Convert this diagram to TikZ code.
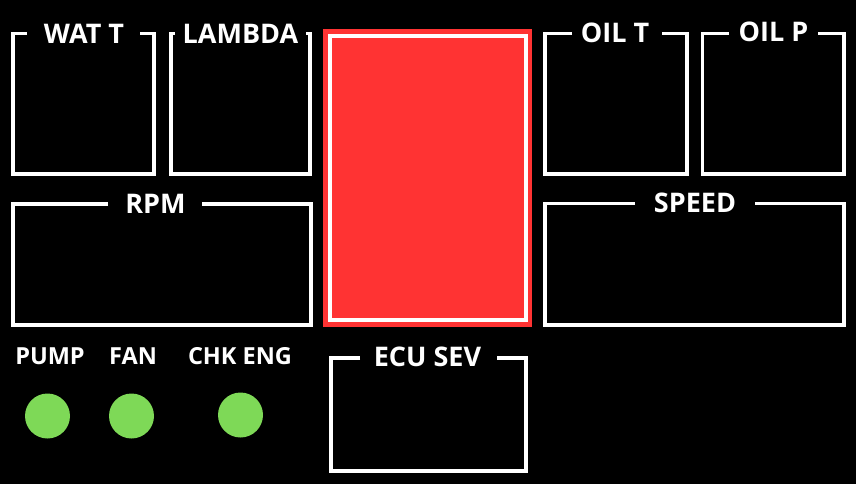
\documentclass[tikz,border=0pt]{standalone}
\usepackage{fontspec}
\setmainfont{Open Sans}
\definecolor{redpanel}{HTML}{FF3333}
\definecolor{lamp}{HTML}{7ED957}
\begin{document}
\begin{tikzpicture}[x=1pt,y=-1pt,
  frame/.style={draw=white, line width=3.6pt, line join=miter},
  biglabel/.style={text=white, font=\bfseries\fontsize{27}{30}\selectfont, inner sep=0pt, anchor=base},
  smalllabel/.style={text=white, font=\bfseries\fontsize{23.5}{28}\selectfont, inner sep=0pt, anchor=base},
  lampdot/.style={circle, fill=lamp, minimum size=45pt, inner sep=0pt}]
\fill[black] (0,0) rectangle (856,484);
\useasboundingbox (0,0) rectangle (856,484);

% top-left gauges
\draw[frame] (27,33.5) -| (13,174) -| (154,33.5) -- (140,33.5);
\node[biglabel] (watt) at (84,43.5) {WAT T};
\draw[frame] (175,33.5) -| (171,174) -| (310,33.5) -- (306,33.5);
\node[biglabel] (lambda) at (240.5,43.5) {LAMBDA};

% RPM
\draw[frame] (108,204) -| (13,325) -| (311,204) -- (202,204);
\node[biglabel] (rpm) at (155.5,213) {RPM};

% central display
\fill[redpanel] (323,29) rectangle (532,327);
\draw[white, line width=3.5pt] (330,36) rectangle (526,320);

% top-right gauges
\draw[frame] (572,33.5) -| (545,174) -| (687,33.5) -- (662,33.5);
\node[biglabel] (oilt) at (615,43) {OIL T};
\draw[frame] (729,33.5) -| (702.5,174) -| (844,33.5) -- (818,33.5);
\node[biglabel] (oilp) at (773.5,42) {OIL P};

% SPEED
\draw[frame] (635,203.5) -| (545,325) -| (844,203.5) -- (755,203.5);
\node[biglabel] (speed) at (695,212) {SPEED};

% ECU SEV
\draw[frame] (360,358) -| (331,471) -| (526,358) -- (497,358);
\node[biglabel] (ecusev) at (427.5,366) {ECU SEV};

% lamps
\node[smalllabel] (pumplbl) at (50,364.5) {PUMP};
\node[smalllabel] (fanlbl) at (133,364.5) {FAN};
\node[smalllabel] (chklbl) at (240,364.5) {CHK ENG};
\node[lampdot] (pump) at (47.5,416) {};
\node[lampdot] (fan) at (131.5,416) {};
\node[lampdot] (chk) at (240.5,415) {};
\end{tikzpicture}
\end{document}
